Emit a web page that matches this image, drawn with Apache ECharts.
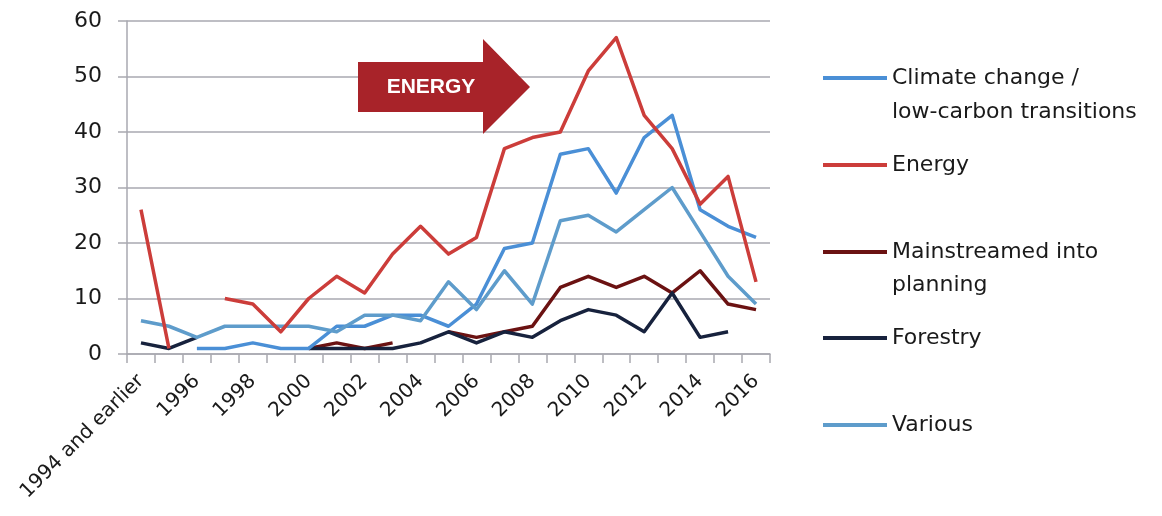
<!DOCTYPE html>
<html>
<head>
<meta charset="utf-8">
<script src="https://cdn.jsdelivr.net/npm/echarts@6/dist/echarts.min.js"></script>
<style>
html,body{margin:0;padding:0;background:#fff;}
#chart{width:1162px;height:516px;}
</style>
</head>
<body>
<div id="chart"></div>
<script>
var categories = ['1994 and earlier','1995','1996','1997','1998','1999','2000','2001','2002','2003','2004','2005','2006','2007','2008','2009','2010','2011','2012','2013','2014','2015','2016'];
var yTicks = [0,10,20,30,40,50,60];
var climate = [null,null,1,1,2,1,1,5,5,7,7,5,9,19,20,36,37,29,39,43,26,23,21];
var energy = [26,1,null,10,9,4,10,14,11,18,23,18,21,37,39,40,51,57,43,37,27,32,13];
var mainstreamed = [null,null,null,null,null,null,1,2,1,2,null,4,3,4,5,12,14,12,14,11,15,9,8];
var forestry = [2,1,3,null,null,null,1,1,1,1,2,4,2,4,3,6,8,7,4,11,3,4,null];
var various = [6,5,3,5,5,5,5,4,7,7,6,13,8,15,9,24,25,22,26,30,22,14,9];

var names = ['Climate change / low-carbon transitions','Energy','Mainstreamed into planning','Forestry','Various'];
var legendFirstLine = ['Climate change /','Energy','Mainstreamed into','Forestry','Various'];
var colors = ['#4a8fd6','#cc3d3a','#6b1212','#17223d','#5e9ccb'];
var dataSets = [climate, energy, mainstreamed, forestry, various];

var FONT = '"DejaVu Sans", "Noto Sans", sans-serif';
var chart = echarts.init(document.getElementById('chart'), null, {renderer:'canvas'});

var legendTops = [60,147,234,320,407];
var legends = names.map(function(n,i){
  return {
    data:[n], left:818, top:legendTops[i], orient:'vertical',
    icon:'rect', itemWidth:64, itemHeight:4, itemGap:0,
    formatter:function(){ return legendFirstLine[i]; },
    textStyle:{fontFamily:FONT, fontSize:22, color:'#1a1a1a', lineHeight:26}
  };
});

var series = names.map(function(n,i){
  return {
    name:n, type:'line', data:dataSets[i], symbol:'none', showSymbol:false,
    connectNulls:false, smooth:false,
    lineStyle:{color:colors[i], width:3.5, join:'round'},
    itemStyle:{color:colors[i]},
    z: [3,4,2,2,3][i]
  };
});

chart.setOption({
  animation:false,
  color:colors,
  grid:{left:127, right:392, top:21, bottom:162, containLabel:false},
  legend:legends,
  xAxis:{
    type:'category', data:categories, boundaryGap:true,
    axisLine:{show:true, lineStyle:{color:'#a9a9b0', width:1.5}},
    axisTick:{show:true, interval:0, length:9, inside:false, lineStyle:{color:'#a9a9b0', width:1.5}},
    axisLabel:{interval:1, rotate:45, margin:24, fontFamily:FONT, fontSize:20, color:'#1a1a1a'}
  },
  yAxis:{
    type:'value', min:0, max:60, interval:10,
    axisLine:{show:true, lineStyle:{color:'#a9a9b0', width:1.5}},
    axisTick:{show:true, length:9, lineStyle:{color:'#a9a9b0', width:1.5}},
    axisLabel:{margin:25, fontFamily:FONT, fontSize:22, fontWeight:500, color:'#1a1a1a',
      formatter:function(v){ return yTicks.indexOf(v)>=0 ? String(v) : ''; }},
    splitLine:{show:true, lineStyle:{color:'#a9a9b0', width:1.5}}
  },
  graphic:[
    {type:'polygon', shape:{points:[[358,62],[483,62],[483,39],[530,87],[483,134],[483,112],[358,112]]},
      style:{fill:'#a82329'}, z:10},
    {type:'text', x:431, y:87, style:{text:'ENERGY', fill:'#ffffff', font:'bold 21px "Liberation Sans", Arial, sans-serif', textAlign:'center', textVerticalAlign:'middle'}, z:11},
    {type:'text', x:892, y:112, style:{text:'low-carbon transitions', fill:'#1a1a1a', font:'22px ' + FONT, textAlign:'left', textVerticalAlign:'middle'}},
    {type:'text', x:892, y:285, style:{text:'planning', fill:'#1a1a1a', font:'22px ' + FONT, textAlign:'left', textVerticalAlign:'middle'}}
  ],
  series:series
});
</script>
</body>
</html>
